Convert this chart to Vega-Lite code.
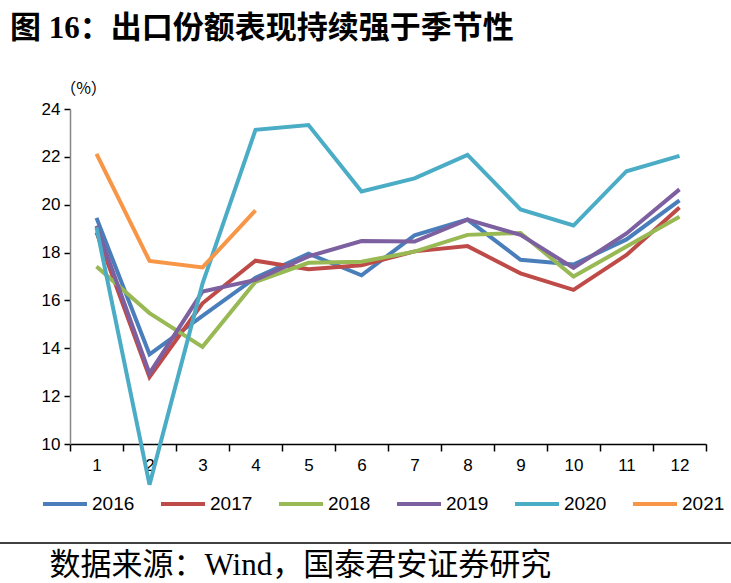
{
  "$schema": "https://vega.github.io/schema/vega-lite/v6.json",
  "autosize": "none",
  "width": 636,
  "height": 335,
  "padding": {"left": 70, "top": 109, "right": 25, "bottom": 139},
  "background": "white",
  "title": {
    "text": "图 16：出口份额表现持续强于季节性",
    "anchor": "start",
    "frame": "group",
    "dx": -60,
    "offset": 35,
    "font": "Liberation Serif, Noto Sans CJK SC",
    "fontSize": 31,
    "fontWeight": "bold",
    "color": "#000000"
  },
  "config": {
    "view": {"stroke": null},
    "axis": {"grid": false}
  },
  "layer": [
    {
      "data": {
        "values": [
          {"year": "2016", "month": 1, "value": 19.45}, {"year": "2016", "month": 2, "value": 13.75}, {"year": "2016", "month": 3, "value": 15.35}, {"year": "2016", "month": 4, "value": 16.95}, {"year": "2016", "month": 5, "value": 17.95}, {"year": "2016", "month": 6, "value": 17.05}, {"year": "2016", "month": 7, "value": 18.72}, {"year": "2016", "month": 8, "value": 19.38}, {"year": "2016", "month": 9, "value": 17.7}, {"year": "2016", "month": 10, "value": 17.5}, {"year": "2016", "month": 11, "value": 18.55}, {"year": "2016", "month": 12, "value": 20.18},
          {"year": "2017", "month": 1, "value": 18.85}, {"year": "2017", "month": 2, "value": 12.8}, {"year": "2017", "month": 3, "value": 15.88}, {"year": "2017", "month": 4, "value": 17.66}, {"year": "2017", "month": 5, "value": 17.3}, {"year": "2017", "month": 6, "value": 17.47}, {"year": "2017", "month": 7, "value": 18.05}, {"year": "2017", "month": 8, "value": 18.27}, {"year": "2017", "month": 9, "value": 17.13}, {"year": "2017", "month": 10, "value": 16.44}, {"year": "2017", "month": 11, "value": 17.9}, {"year": "2017", "month": 12, "value": 19.88},
          {"year": "2018", "month": 1, "value": 17.42}, {"year": "2018", "month": 2, "value": 15.47}, {"year": "2018", "month": 3, "value": 14.06}, {"year": "2018", "month": 4, "value": 16.78}, {"year": "2018", "month": 5, "value": 17.57}, {"year": "2018", "month": 6, "value": 17.62}, {"year": "2018", "month": 7, "value": 18.04}, {"year": "2018", "month": 8, "value": 18.74}, {"year": "2018", "month": 9, "value": 18.82}, {"year": "2018", "month": 10, "value": 17.0}, {"year": "2018", "month": 11, "value": 18.25}, {"year": "2018", "month": 12, "value": 19.5},
          {"year": "2019", "month": 1, "value": 19.12}, {"year": "2019", "month": 2, "value": 12.95}, {"year": "2019", "month": 3, "value": 16.37}, {"year": "2019", "month": 4, "value": 16.86}, {"year": "2019", "month": 5, "value": 17.84}, {"year": "2019", "month": 6, "value": 18.48}, {"year": "2019", "month": 7, "value": 18.46}, {"year": "2019", "month": 8, "value": 19.38}, {"year": "2019", "month": 9, "value": 18.74}, {"year": "2019", "month": 10, "value": 17.36}, {"year": "2019", "month": 11, "value": 18.8}, {"year": "2019", "month": 12, "value": 20.64},
          {"year": "2020", "month": 1, "value": 19.05}, {"year": "2020", "month": 2, "value": 8.3}, {"year": "2020", "month": 3, "value": 16.7}, {"year": "2020", "month": 4, "value": 23.13}, {"year": "2020", "month": 5, "value": 23.33}, {"year": "2020", "month": 6, "value": 20.55}, {"year": "2020", "month": 7, "value": 21.1}, {"year": "2020", "month": 8, "value": 22.08}, {"year": "2020", "month": 9, "value": 19.8}, {"year": "2020", "month": 10, "value": 19.13}, {"year": "2020", "month": 11, "value": 21.4}, {"year": "2020", "month": 12, "value": 22.04},
          {"year": "2021", "month": 1, "value": 22.12}, {"year": "2021", "month": 2, "value": 17.65}, {"year": "2021", "month": 3, "value": 17.38}, {"year": "2021", "month": 4, "value": 19.76}
        ]
      },
      "mark": {"type": "line", "strokeWidth": 4, "clip": false, "strokeJoin": "miter"},
      "encoding": {
        "x": {
          "field": "month",
          "type": "ordinal",
          "bandPosition": 0.5,
          "scale": {"type": "band", "paddingInner": 0, "paddingOuter": 0},
          "axis": {
            "title": "数据来源：Wind，国泰君安证券研究",
            "titleFont": "Liberation Serif, Noto Sans CJK SC",
            "titleFontSize": 31,
            "titleFontWeight": "normal",
            "titleColor": "#000000",
            "titleX": -21,
            "titleY": 121,
            "titleAlign": "left",
            "titleBaseline": "middle",
            "labelAngle": 0,
            "labelFont": "Liberation Sans",
            "labelFontSize": 17,
            "labelColor": "#000000",
            "labelPadding": 6,
            "tickBand": "extent",
            "tickSize": 7,
            "tickColor": "#000000",
            "tickWidth": 1.5,
            "domainColor": "#000000",
            "domainWidth": 1.5
          }
        },
        "y": {
          "field": "value",
          "type": "quantitative",
          "scale": {"domain": [10, 24], "nice": false, "zero": false},
          "axis": {
            "values": [10, 12, 14, 16, 18, 20, 22, 24],
            "title": "（%）",
            "titleAngle": 0,
            "titleX": 13,
            "titleY": -21,
            "titleAlign": "center",
            "titleBaseline": "middle",
            "titleFont": "Noto Sans CJK SC",
            "titleFontSize": 16,
            "titleFontWeight": "normal",
            "titleColor": "#000000",
            "labelFont": "Liberation Sans",
            "labelFontSize": 17,
            "labelColor": "#000000",
            "labelPadding": 4,
            "tickSize": 6,
            "tickColor": "#000000",
            "tickWidth": 1.5,
            "domainColor": "#868686",
            "domainWidth": 1.5
          }
        },
        "color": {
          "field": "year",
          "type": "nominal",
          "scale": {
            "domain": ["2016", "2017", "2018", "2019", "2020", "2021"],
            "range": ["#4a7ebb", "#be4b48", "#98b954", "#7d60a0", "#4bacc6", "#f79646"]
          },
          "legend": {
            "title": null,
            "orient": "none",
            "direction": "horizontal",
            "legendX": -29,
            "legendY": 371,
            "padding": 0,
            "symbolType": "stroke",
            "symbolSize": 1936,
            "symbolStrokeWidth": 4,
            "labelFont": "Liberation Sans",
            "labelFontSize": 19,
            "labelColor": "#000000",
            "labelOffset": 3,
            "columnPadding": 18
          }
        }
      }
    },
    {
      "data": {"values": [{}]},
      "mark": {"type": "rule", "color": "#000000", "strokeWidth": 1.5, "clip": false},
      "encoding": {
        "x": {"value": -70},
        "x2": {"value": 661},
        "y": {"value": 434}
      }
    }
  ]
}
